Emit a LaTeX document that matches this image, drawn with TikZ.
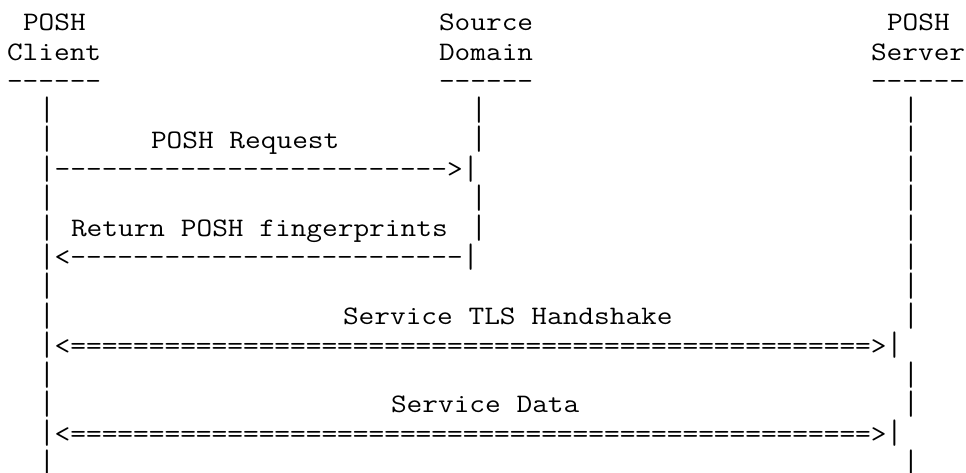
\documentclass[tikz,border=0pt]{standalone}
\newcommand\rep[2]{\foreach\k in {1,...,#2}{#1\kern0pt}}
\newcommand\mt[1]{\scalebox{1.1428}[1]{#1}}
\newcommand\vb{\raisebox{-4.4pt}{\resizebox*{\width}{26.4pt}{\raisebox{\depth}{|}}}}
\tikzset{
  txt/.style={anchor=base west, inner sep=0pt, outer sep=0pt,
    font=\fontsize{26.67pt}{29.4pt}\selectfont\ttfamily}
}
\begin{document}
\begin{tikzpicture}
\useasboundingbox (0pt,0pt) rectangle (966pt,-473pt);
\begin{scope}[x=16pt,y=-29.4pt,shift={(7pt,-1.3pt)}]
% header
\node[txt] (h1a) at (1,1)  {\mt{POSH}};
\node[txt] (h1b) at (27,1) {\mt{Source}};
\node[txt] (h1c) at (55,1) {\mt{POSH}};
\node[txt] (h2a) at (0,2)  {\mt{Client}};
\node[txt] (h2b) at (27,2) {\mt{Domain}};
\node[txt] (h2c) at (54,2) {\mt{Server}};
\node[txt] (h3a) at (0,3)  {\mt{\rep{-}{6}}};
\node[txt] (h3b) at (27,3) {\mt{\rep{-}{6}}};
\node[txt] (h3c) at (54,3) {\mt{\rep{-}{6}}};
% row 4
\node[txt] (b4a) at (2,4)  {\mt{\vb}};
\node[txt] (b4b) at (29,4) {\mt{\vb}};
\node[txt] (b4c) at (56,4) {\mt{\vb}};
% row 5
\node[txt] (b5a) at (2,5)  {\mt{\vb}};
\node[txt] (req) at (9,5)  {\mt{POSH Request}};
\node[txt] (b5b) at (29,5) {\mt{\vb}};
\node[txt] (b5c) at (56,5) {\mt{\vb}};
% row 6
\node[txt] (a6)  at (2,6)  {\mt{\vb\rep{-}{25}>\vb}};
\node[txt] (b6c) at (56,6) {\mt{\vb}};
% row 7
\node[txt] (b7a) at (2,7)  {\mt{\vb}};
\node[txt] (b7b) at (29,7) {\mt{\vb}};
\node[txt] (b7c) at (56,7) {\mt{\vb}};
% row 8
\node[txt] (b8a) at (2,8)  {\mt{\vb}};
\node[txt] (ret) at (4,8)  {\mt{Return POSH fingerprints}};
\node[txt] (b8b) at (29,8) {\mt{\vb}};
\node[txt] (b8c) at (56,8) {\mt{\vb}};
% row 9
\node[txt] (a9)  at (2,9)  {\mt{\vb<\rep{-}{25}\vb}};
\node[txt] (b9c) at (56,9) {\mt{\vb}};
% row 10
\node[txt] (b10a) at (2,10)  {\mt{\vb}};
\node[txt] (b10c) at (56,10) {\mt{\vb}};
% row 11
\node[txt] (b11a) at (2,11)  {\mt{\vb}};
\node[txt] (tls)  at (21,11) {\mt{Service TLS Handshake}};
\node[txt] (b11c) at (56,11) {\mt{\vb}};
% row 12
\node[txt] (a12) at (2,12) {\mt{\vb<\rep{=}{51}>\vb}};
% row 13
\node[txt] (b13a) at (2,13)  {\mt{\vb}};
\node[txt] (b13c) at (56,13) {\mt{\vb}};
% row 14
\node[txt] (b14a) at (2,14)  {\mt{\vb}};
\node[txt] (dat)  at (24,14) {\mt{Service Data}};
\node[txt] (b14c) at (56,14) {\mt{\vb}};
% row 15
\node[txt] (a15) at (2,15) {\mt{\vb<\rep{=}{51}>\vb}};
% row 16
\node[txt] (b16a) at (2,16)  {\mt{\vb}};
\node[txt] (b16c) at (56,16) {\mt{\vb}};
\end{scope}
\end{tikzpicture}
\end{document}
